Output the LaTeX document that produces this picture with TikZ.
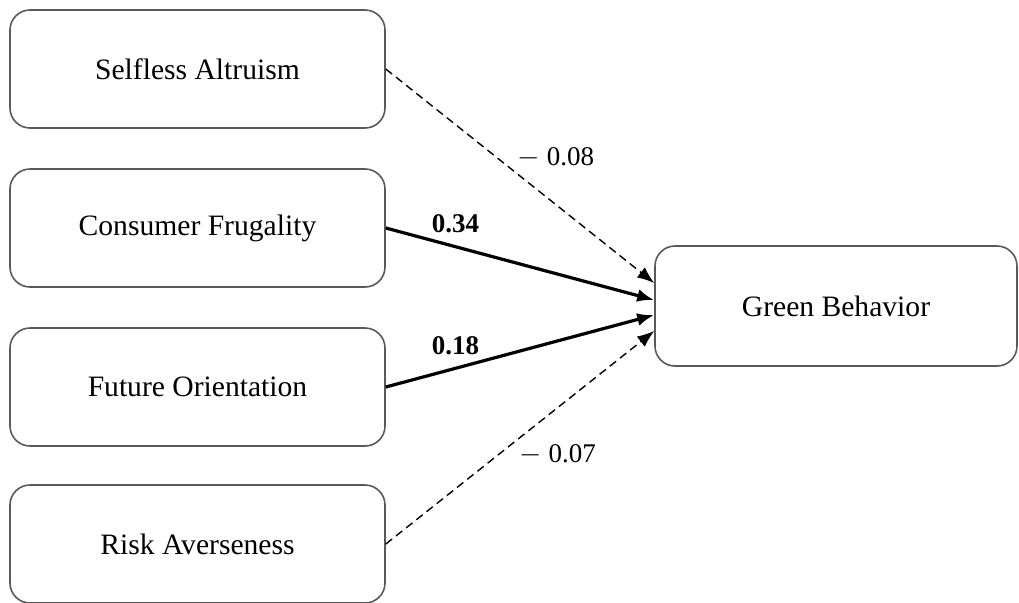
\documentclass[tikz,border=0pt]{standalone}
\usepackage{fontspec}
\setmainfont{Liberation Serif}
\usetikzlibrary{arrows.meta}

\begin{document}
\begin{tikzpicture}[x=0.5pt,y=-0.5pt,
	box/.style={draw=black!65,line width=0.8pt,rounded corners=10pt,minimum width=187.5pt,minimum height=59pt,font=\fontsize{14.8}{17}\selectfont},
	strong/.style={-{Latex[length=8.5pt,width=6.5pt]},line width=1.6pt},
	weak/.style={-{Latex[length=8.5pt,width=6.5pt]},line width=0.7pt,dash pattern=on 4pt off 2.5pt},
	coef/.style={font=\fontsize{13.5}{16}\selectfont,inner sep=1pt}]
	\useasboundingbox (0,0) rectangle (1019,602);
	\node[box] (altruism) at (197.5,69) {Selfless Altruism};
	\node[box] (frugality) at (197.5,228) {Consumer Frugality};
	\node[box] (future) at (197.5,387) {Future Orientation};
	\node[box] (risk) at (197.5,544) {Risk Averseness};
	\node[box,minimum width=181pt,minimum height=60pt] (green) at (836,306) {Green Behavior};
	\coordinate (g1) at ([yshift=11.5pt]green.west);
	\coordinate (g2) at ([yshift=3pt]green.west);
	\coordinate (g3) at ([yshift=-4.5pt]green.west);
	\coordinate (g4) at ([yshift=-12.5pt]green.west);
	\draw[weak] (altruism.east) -- (g1) node[coef,pos=0.634,above=17pt] (c1) {$-$ 0.08};
	\draw[strong] (frugality.east) -- (g2) node[coef,pos=0.26,above=5pt] (c2) {\textbf{0.34}};
	\draw[strong] (future.east) -- (g3) node[coef,pos=0.26,above=5pt] (c3) {\textbf{0.18}};
	\draw[weak] (risk.east) -- (g4) node[coef,pos=0.64,below=17pt] (c4) {$-$ 0.07};
\end{tikzpicture}
\end{document}
